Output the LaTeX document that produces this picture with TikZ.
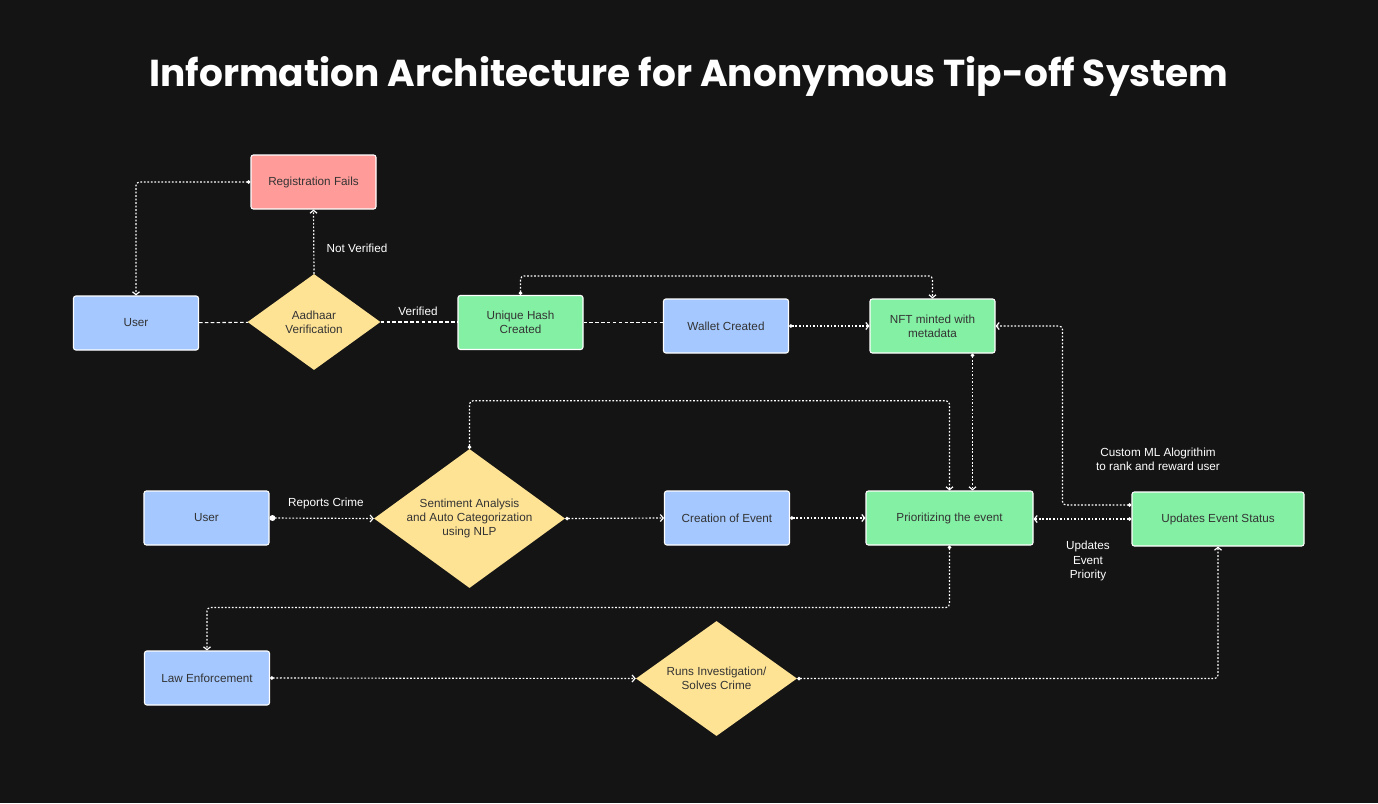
\documentclass[tikz,border=0pt]{standalone}
\usepackage{fontspec}
\setmainfont{Liberation Sans}
\newfontfamily\titlefont{Poppins}
\usepackage{xcolor}
\usetikzlibrary{arrows.meta,shapes.geometric}

\definecolor{bgcol}{HTML}{141414}
\definecolor{bluecol}{HTML}{A4C8FF}
\definecolor{greencol}{HTML}{84F0A4}
\definecolor{redcol}{HTML}{FF9C99}
\definecolor{yellowcol}{HTML}{FFE395}
\definecolor{textcol}{HTML}{333333}

\begin{document}
\begin{tikzpicture}[x=0.03cm,y=-0.03cm,
box_node/.style={rectangle,draw=white,line width=0.9pt,rounded corners=2pt,minimum width=3.75cm,minimum height=1.62cm,text=textcol,font=\fontsize{10}{12}\selectfont,align=center},
blue_node/.style={box_node,fill=bluecol},
green_node/.style={box_node,fill=greencol},
red_node/.style={box_node,fill=redcol},
dec_node/.style={diamond,aspect=1.4,fill=yellowcol,inner sep=0pt,text=textcol,font=\fontsize{10}{12}\selectfont,align=center},
flow_line/.style={draw=white,line width=1pt,dash pattern=on 1.5pt off 1.5pt,rounded corners=3pt},
plain_line/.style={draw=white,line width=0.9pt,dash pattern=on 3pt off 2pt},
flow_tip/.style={{Circle[length=3pt]}-{Straight Barb[length=2.5pt,width=6pt]}},
label_text/.style={text=white,font=\fontsize{10}{12}\selectfont,align=center}]

\fill[bgcol] (0,0) rectangle (1378,803);

\node[text=white,font=\titlefont\bfseries\fontsize{32}{38}\selectfont] (title) at (689,76) {Information Architecture for Anonymous Tip-off System};

% top row
\node[red_node] (fail) at (313.5,182) {Registration Fails};
\node[blue_node] (user_a) at (136,323) {User};
\node[dec_node,minimum width=3.99cm,minimum height=2.88cm] (aadhaar) at (314,322) {Aadhaar\\Verification};
\node[green_node] (hash) at (520.5,322.5) {Unique Hash\\Created};
\node[blue_node] (wallet) at (726,326) {Wallet Created};
\node[green_node] (nft) at (932.5,326) {NFT minted with\\metadata};

% middle row
\node[blue_node] (user_b) at (206.5,518) {User};
\node[dec_node,minimum width=5.73cm,minimum height=4.17cm] (senti) at (469.5,518.5) {Sentiment Analysis\\and Auto Categorization\\using NLP};
\node[blue_node] (event) at (727,518) {Creation of Event};
\node[green_node,minimum width=5.01cm] (prior) at (949.5,518) {Prioritizing the event};
\node[green_node,minimum width=5.16cm] (status) at (1218,519) {Updates Event Status};

% bottom row
\node[blue_node] (law) at (207,678) {Law Enforcement};
\node[dec_node,minimum width=4.83cm,minimum height=3.45cm] (runs) at (716.5,678.5) {Runs Investigation/\\Solves Crime};

% labels
\node[label_text] (l_notver) at (357,248) {Not Verified};
\node[label_text] (l_ver) at (418,311) {Verified};
\node[label_text] (l_report) at (326,503) {Reports Crime};
\node[label_text] (l_ml) at (1158,459) {Custom ML Alogrithim\\to rank and reward user};
\node[label_text] (l_upd) at (1088,561) {Updates\\Event\\Priority};

% connectors
\path[plain_line]
(user_a) edge (aadhaar)
(aadhaar.east) edge (aadhaar.east -| hash.west)
(hash.east) edge (hash.east -| wallet.west)
;

\draw[flow_line,flow_tip] (fail.west) -| (user_a.north);
\draw[flow_line,-{Straight Barb[length=2.5pt,width=6pt]}] (aadhaar.north) -- (fail.south);
\draw[flow_line,flow_tip] (wallet.east) -- (nft.west);
\draw[flow_line,flow_tip] (hash.north) -- ++(0,-19) -| (nft.north);
\draw[flow_line,flow_tip] ([yshift=0.42cm]status.west) -- ++(-69,0) |- (nft.east);
\draw[flow_line,flow_tip] ([xshift=1.2cm]nft.south) -- ([xshift=1.2cm]nft.south |- prior.north);
\draw[flow_line,flow_tip] (senti.north) -- ++(0,-48) -| (prior.north);
\draw[flow_line,{Circle[length=5pt]}-{Straight Barb[length=2.5pt,width=6pt]}] (user_b.east) -- (senti.west);
\draw[flow_line,flow_tip] (senti.east) -- (event.west);
\draw[flow_line,flow_tip] (event.east) -- (prior.west);
\draw[flow_line,flow_tip] (status.west) -- (status.west -| prior.east);
\draw[flow_line,flow_tip] (prior.south) -- ++(0,62) -| (law.north);
\draw[flow_line,flow_tip] (law.east) -- (runs.west);
\draw[flow_line,flow_tip] (runs.east) -| (status.south);

\end{tikzpicture}
\end{document}
